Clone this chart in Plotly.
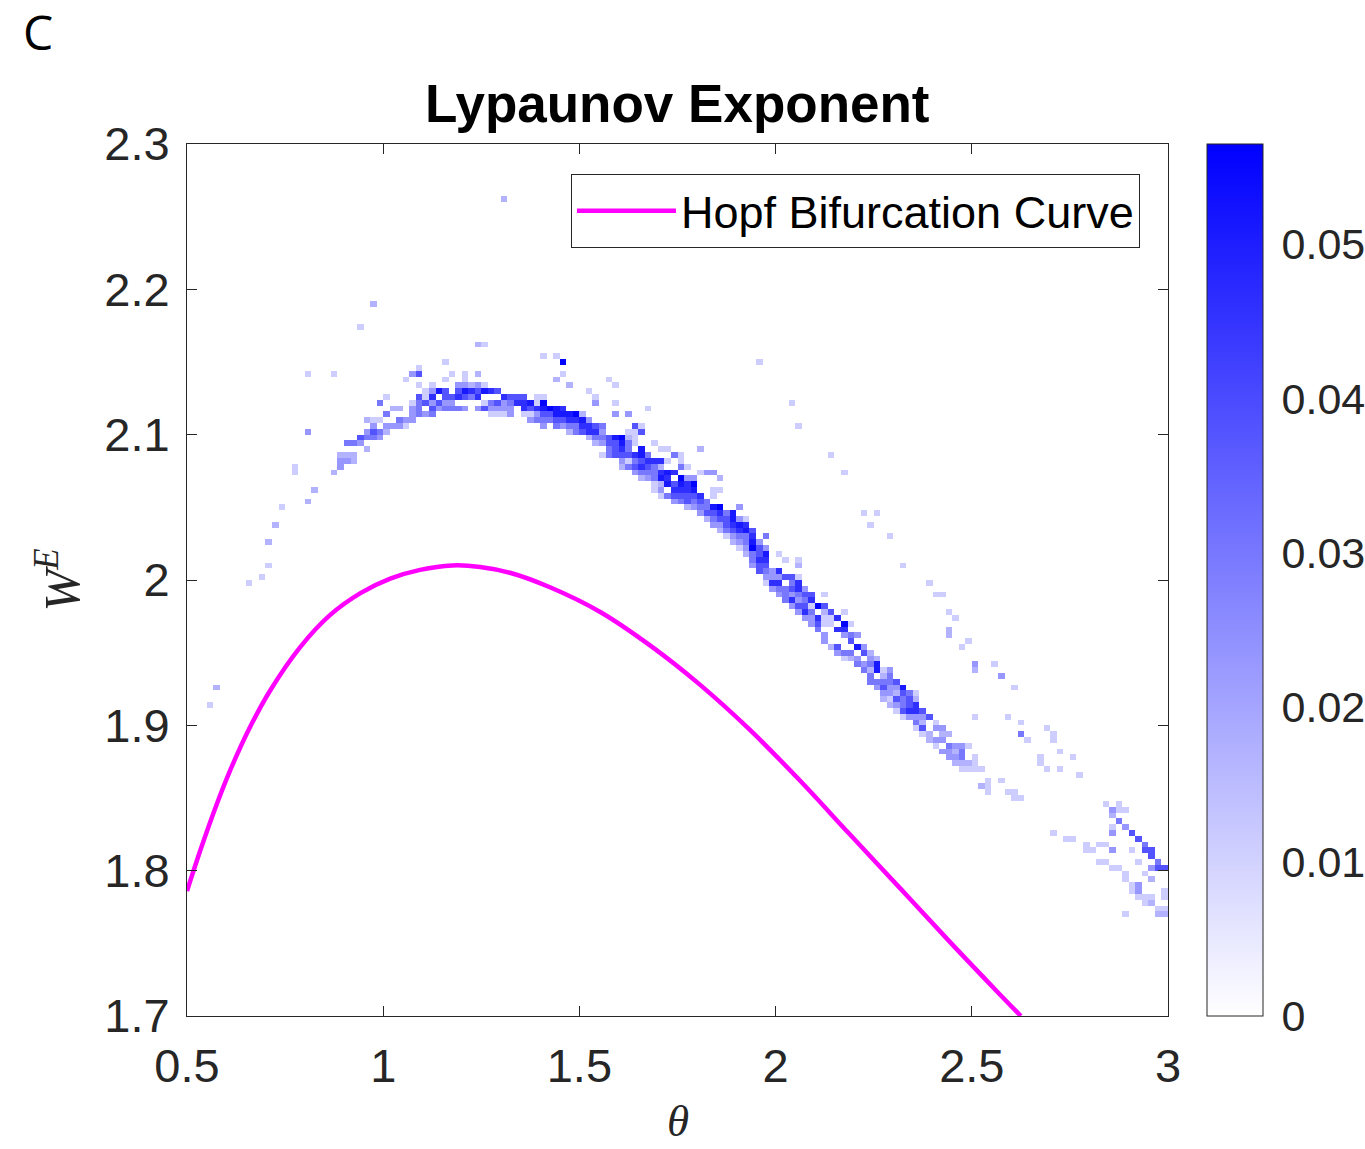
import numpy as np
import plotly.graph_objects as go

# ---------------- grid of the Lyapunov map ----------------
theta_min, theta_max, n_theta = 0.5, 3.0, 150
we_min, we_max, n_we = 1.7, 2.3, 150

# intensity levels -> Lyapunov exponent value
level_values = [0.0, 0.005, 0.011, 0.017, 0.023, 0.030, 0.038, 0.046, 0.051, 0.056]

# non-zero cells: (W^E row index, [(theta column index, level), ...])
lyap_rows = [
    (140, [(48, 3)]),
    (122, [(28, 3)]),
    (118, [(26, 2)]),
    (115, [(44, 3), (45, 2)]),
    (113, [(54, 2), (56, 2)]),
    (112, [(39, 2), (57, 9), (87, 2)]),
    (111, [(35, 2)]),
    (110, [(18, 2), (22, 2), (34, 4), (35, 6), (40, 2), (42, 2), (44, 3), (57, 2)]),
    (109, [(33, 2), (39, 2), (42, 2), (56, 3), (64, 2)]),
    (108, [(35, 2), (37, 2), (41, 4), (42, 4), (43, 3), (44, 4), (45, 2), (58, 3), (65, 2)]),
    (107, [(36, 2), (37, 4), (38, 8), (39, 6), (41, 6), (42, 8), (43, 7), (44, 6), (45, 8), (46, 7), (47, 6), (61, 2)]),
    (106, [(30, 2), (35, 6), (36, 2), (37, 7), (39, 6), (40, 6), (41, 7), (42, 6), (43, 5), (44, 7), (48, 7), (49, 6),
           (50, 6), (51, 6), (53, 2), (54, 2), (62, 2)]),
    (105, [(29, 5), (34, 2), (35, 5), (36, 6), (37, 4), (38, 6), (39, 4), (40, 4), (45, 2), (46, 5), (47, 6), (48, 4),
           (49, 5), (50, 7), (51, 7), (52, 8), (53, 2), (54, 9), (62, 4), (65, 2), (92, 2)]),
    (104, [(31, 3), (32, 3), (34, 4), (35, 5), (37, 6), (38, 4), (39, 5), (40, 5), (41, 5), (42, 4), (44, 4), (45, 6),
           (46, 4), (47, 4), (48, 4), (49, 4), (51, 7), (52, 6), (53, 7), (54, 8), (55, 9), (56, 8), (57, 7), (70, 2)]),
    (103, [(30, 5), (34, 4), (35, 5), (36, 4), (37, 5), (46, 2), (47, 2), (48, 2), (49, 4), (51, 2), (52, 2), (53, 4),
           (54, 6), (55, 6), (56, 8), (57, 8), (58, 8), (59, 9), (60, 3), (65, 4), (67, 4)]),
    (102, [(27, 3), (28, 2), (29, 2), (32, 5), (33, 4), (34, 4), (52, 4), (53, 5), (54, 5), (55, 5), (56, 6), (57, 6),
           (58, 7), (59, 7), (60, 8), (61, 4)]),
    (101, [(28, 4), (30, 4), (31, 4), (32, 4), (33, 2), (54, 4), (56, 5), (57, 4), (58, 5), (59, 5), (60, 7), (61, 7),
           (62, 6), (63, 5), (68, 6), (69, 2), (93, 2)]),
    (100, [(18, 4), (27, 4), (28, 6), (29, 5), (30, 3), (58, 3), (59, 5), (60, 6), (61, 7), (62, 7), (63, 4), (67, 2),
           (68, 2), (69, 6)]),
    (99, [(26, 6), (27, 5), (28, 5), (29, 4), (61, 3), (62, 5), (63, 5), (64, 6), (65, 8), (66, 9), (67, 3), (68, 2)]),
    (98, [(24, 5), (25, 5), (26, 4), (62, 3), (63, 4), (64, 6), (65, 6), (66, 8), (67, 5), (68, 2), (71, 2)]),
    (97, [(27, 3), (64, 5), (65, 6), (66, 7), (67, 5), (69, 8), (72, 2), (73, 2), (78, 3)]),
    (96, [(23, 3), (24, 3), (25, 3), (63, 2), (64, 5), (65, 6), (66, 6), (67, 6), (68, 7), (69, 8), (70, 5), (74, 5),
          (75, 2), (98, 2)]),
    (95, [(23, 4), (24, 4), (25, 3), (66, 4), (67, 2), (68, 5), (69, 6), (70, 7), (71, 7), (72, 7), (73, 2), (75, 2)]),
    (94, [(16, 2), (23, 4), (66, 3), (67, 5), (68, 6), (69, 7), (70, 6), (71, 5), (72, 3), (75, 5), (76, 2)]),
    (93, [(16, 2), (22, 3), (68, 4), (69, 5), (70, 5), (71, 5), (72, 7), (73, 8), (74, 7), (78, 2), (79, 4), (80, 4),
          (100, 2)]),
    (92, [(69, 3), (70, 4), (71, 5), (72, 8), (73, 7), (75, 9), (76, 4), (77, 4), (81, 3)]),
    (91, [(71, 2), (72, 3), (73, 8), (74, 6), (75, 8), (76, 7), (77, 9)]),
    (90, [(19, 3), (71, 2), (72, 4), (74, 7), (75, 7), (76, 7), (77, 8), (80, 2), (81, 2)]),
    (89, [(72, 2), (73, 5), (74, 6), (75, 6), (76, 6), (77, 6), (78, 7), (80, 2)]),
    (88, [(18, 3), (74, 4), (75, 5), (76, 6), (77, 5), (78, 6), (79, 5)]),
    (87, [(14, 2), (76, 3), (77, 4), (78, 5), (79, 5), (80, 8), (81, 9), (84, 4)]),
    (86, [(78, 4), (79, 6), (80, 6), (81, 7), (82, 5), (83, 8), (103, 2), (105, 2)]),
    (85, [(79, 3), (80, 5), (81, 6), (82, 6), (83, 8), (84, 4), (85, 2)]),
    (84, [(13, 3), (80, 4), (81, 4), (82, 6), (83, 7), (84, 8), (85, 7), (104, 2)]),
    (83, [(81, 3), (82, 5), (83, 6), (84, 7), (85, 8), (86, 6)]),
    (82, [(82, 2), (83, 4), (84, 5), (85, 5), (86, 7), (88, 5), (107, 2)]),
    (81, [(12, 3), (83, 3), (84, 4), (85, 5), (86, 8), (87, 4)]),
    (80, [(84, 2), (85, 4), (86, 9), (87, 6), (88, 4)]),
    (79, [(85, 3), (86, 5), (87, 6), (88, 8), (90, 2)]),
    (78, [(86, 5), (87, 7), (88, 7), (91, 2), (93, 2)]),
    (77, [(12, 2), (86, 4), (87, 6), (88, 6), (93, 3), (109, 2)]),
    (76, [(87, 6), (88, 5), (89, 4), (90, 7)]),
    (75, [(11, 2), (88, 4), (89, 4), (90, 4), (91, 6), (92, 6), (93, 2)]),
    (74, [(9, 2), (88, 2), (89, 7), (90, 7), (92, 5), (93, 7), (113, 2)]),
    (73, [(89, 4), (90, 5), (91, 5), (92, 6), (93, 7), (94, 4)]),
    (72, [(90, 4), (91, 5), (92, 4), (93, 5), (94, 6), (95, 6), (97, 2), (114, 2), (115, 2)]),
    (71, [(91, 5), (92, 7), (93, 4), (94, 5), (95, 7)]),
    (70, [(92, 4), (93, 6), (94, 6), (95, 2), (96, 9), (97, 6)]),
    (69, [(93, 4), (94, 7), (95, 5), (97, 3), (98, 6), (100, 2), (116, 2)]),
    (68, [(94, 4), (95, 4), (96, 7), (97, 2), (98, 2), (99, 7), (117, 2)]),
    (67, [(95, 4), (96, 6), (97, 2), (98, 2), (100, 9), (101, 2)]),
    (66, [(96, 5), (99, 7), (100, 7), (116, 3)]),
    (65, [(97, 4), (100, 4), (101, 5), (102, 4), (116, 3)]),
    (64, [(97, 4), (101, 6), (119, 2)]),
    (63, [(98, 3), (99, 6), (102, 8), (103, 4), (118, 2)]),
    (62, [(99, 4), (100, 5), (101, 5), (103, 6), (104, 3)]),
    (61, [(100, 2), (101, 3), (102, 4), (104, 4), (105, 3)]),
    (60, [(102, 5), (103, 4), (104, 5), (105, 8), (120, 4), (123, 2)]),
    (59, [(103, 5), (104, 3), (105, 8), (106, 2), (107, 4), (120, 3)]),
    (58, [(104, 5), (106, 3), (107, 5), (124, 4)]),
    (57, [(104, 5), (105, 5), (106, 5), (107, 5), (108, 6)]),
    (56, [(4, 3), (105, 4), (106, 6), (107, 4), (108, 4), (109, 8), (126, 2)]),
    (55, [(106, 4), (107, 4), (108, 3), (109, 6), (110, 5), (111, 2)]),
    (54, [(106, 3), (107, 2), (108, 6), (109, 5), (110, 6), (111, 3)]),
    (53, [(3, 2), (107, 3), (108, 4), (109, 5), (110, 6), (111, 7)]),
    (52, [(108, 2), (109, 6), (110, 7), (111, 7), (112, 6)]),
    (51, [(109, 2), (110, 4), (111, 4), (112, 4), (113, 6), (120, 2), (125, 2)]),
    (50, [(111, 5), (112, 3), (114, 2), (127, 2)]),
    (49, [(111, 2), (112, 6), (114, 4), (115, 4), (131, 2)]),
    (48, [(112, 2), (113, 3), (115, 3), (116, 3), (127, 5), (132, 2)]),
    (47, [(113, 3), (114, 4), (115, 4), (128, 2), (132, 2)]),
    (46, [(114, 2), (116, 5), (117, 4), (118, 4), (119, 2)]),
    (45, [(115, 4), (116, 4), (117, 3), (118, 5), (133, 2)]),
    (44, [(116, 4), (117, 4), (118, 5), (120, 2), (130, 2), (135, 2)]),
    (43, [(117, 3), (118, 3), (119, 3), (120, 2), (130, 2)]),
    (42, [(118, 2), (119, 2), (120, 2), (121, 2), (131, 2), (133, 2)]),
    (41, [(136, 2)]),
    (40, [(122, 2), (124, 2)]),
    (39, [(121, 3), (122, 2)]),
    (38, [(122, 2), (125, 2), (126, 2)]),
    (37, [(126, 2), (127, 2)]),
    (36, [(140, 2), (142, 2)]),
    (35, [(141, 4), (142, 2), (143, 2)]),
    (34, [(141, 3)]),
    (33, [(142, 5)]),
    (32, [(141, 2), (143, 4)]),
    (31, [(132, 2), (141, 4), (144, 6)]),
    (30, [(134, 2), (135, 2), (145, 6)]),
    (29, [(137, 2), (139, 2), (140, 2), (146, 5)]),
    (28, [(137, 2), (138, 2), (141, 4), (144, 2), (146, 6), (147, 6)]),
    (27, [(147, 6)]),
    (26, [(139, 2), (140, 2), (145, 2), (148, 5)]),
    (25, [(141, 2), (142, 2), (147, 4), (148, 6), (149, 6)]),
    (24, [(143, 2), (146, 2)]),
    (23, [(143, 2), (147, 3)]),
    (22, [(144, 2), (145, 4)]),
    (21, [(144, 2), (145, 4), (149, 2)]),
    (20, [(145, 2), (146, 2), (147, 2), (149, 2)]),
    (19, [(146, 2), (147, 3)]),
    (18, [(148, 2), (149, 2)]),
    (17, [(143, 2), (148, 3), (149, 3)]),
]

# Hopf bifurcation curve (theta, W^E)
hopf_theta = [0.50, 0.534, 0.572, 0.61, 0.661, 0.712, 0.789, 0.865, 0.942, 1.018, 1.094, 1.176, 1.247,
              1.323, 1.425, 1.553, 1.68, 1.807, 1.934, 2.062, 2.189, 2.317, 2.444, 2.571, 2.625]
hopf_we = [1.786, 1.814, 1.843, 1.869, 1.899, 1.924, 1.954, 1.976, 1.991, 2.001, 2.007, 2.010, 2.009,
           2.005, 1.995, 1.978, 1.955, 1.928, 1.897, 1.862, 1.825, 1.788, 1.751, 1.715, 1.700]

x_ticks = [0.5, 1, 1.5, 2, 2.5, 3]
x_ticktext = ['0.5', '1', '1.5', '2', '2.5', '3']
y_ticks = [1.7, 1.8, 1.9, 2.0, 2.1, 2.2, 2.3]
y_ticktext = ['1.7', '1.8', '1.9', '2', '2.1', '2.2', '2.3']
cb_ticks = [0, 0.01, 0.02, 0.03, 0.04, 0.05]
cb_ticktext = ['0', '0.01', '0.02', '0.03', '0.04', '0.05']
cb_max = 0.0565

# ---------------- build the matrix ----------------
d_theta = (theta_max - theta_min) / n_theta
d_we = (we_max - we_min) / n_we
theta_centers = theta_min + d_theta * (np.arange(n_theta) + 0.5)
we_centers = we_min + d_we * (np.arange(n_we) + 0.5)
z = np.full((n_we, n_theta), np.nan)
for row, cells in lyap_rows:
    for col, lev in cells:
        z[row, col] = level_values[lev]

AX = '#262626'
SANS = 'Liberation Sans, Arial, sans-serif'
TICKFONT = dict(family=SANS, size=47, color=AX)

fig = go.Figure()
fig.add_trace(go.Heatmap(
    x=theta_centers, y=we_centers, z=z,
    colorscale=[[0, '#ffffff'], [1, '#0000ff']], zmin=0, zmax=cb_max,
    hoverongaps=False, showlegend=False,
    colorbar=dict(
        x=1.0402, xanchor='left', xref='paper', y=0, yanchor='bottom', len=1, lenmode='fraction',
        thickness=56, thicknessmode='pixels', outlinewidth=1, outlinecolor=AX,
        tickvals=cb_ticks, ticktext=cb_ticktext, ticks='outside', ticklen=10, tickcolor='rgba(0,0,0,0)',
        tickfont=dict(family=SANS, size=43, color=AX), xpad=0, ypad=0,
    ),
))
fig.add_trace(go.Scatter(
    x=hopf_theta, y=hopf_we, mode='lines', name='Hopf Bifurcation Curve',
    line=dict(color='#ff00ff', width=4.5, shape='spline', smoothing=1.0),
    showlegend=True,
))

fig.update_layout(
    width=1365, height=1149,
    margin=dict(l=187, r=197, t=144, b=133, autoexpand=False),
    paper_bgcolor='white', plot_bgcolor='white',
    xaxis=dict(range=[theta_min, theta_max], tickvals=x_ticks, ticktext=x_ticktext, ticks='inside',
               ticklen=10, tickwidth=1, tickcolor=AX, showline=True, linecolor=AX, linewidth=1,
               mirror='ticks', showgrid=False, zeroline=False, tickfont=TICKFONT, ticklabelstandoff=9),
    yaxis=dict(range=[we_min, we_max], tickvals=y_ticks, ticktext=y_ticktext, ticks='inside',
               ticklen=10, tickwidth=1, tickcolor=AX, showline=True, linecolor=AX, linewidth=1,
               mirror='ticks', showgrid=False, zeroline=False, tickfont=TICKFONT, ticklabelstandoff=7),
    legend=dict(x=0.3914, y=0.9656, xanchor='left', yanchor='top', bordercolor=AX, borderwidth=1,
                bgcolor='white', font=dict(family=SANS, size=45, color='black'),
                itemwidth=99),
    showlegend=True,
)

fig.add_annotation(text='<b>Lypaunov Exponent</b>', xref='paper', yref='paper', x=0.5, y=1.047,
                   xanchor='center', yanchor='middle', showarrow=False,
                   font=dict(family=SANS, size=53, color='black'))
fig.add_annotation(text='C', xref='paper', yref='paper', x=-0.1515, y=1.1285,
                   xanchor='center', yanchor='middle', showarrow=False,
                   font=dict(family='Open Sans, sans-serif', size=48, color='black'))
fig.add_annotation(text='<i>θ</i>', xref='paper', yref='paper', x=0.5, y=-0.1205,
                   xanchor='center', yanchor='middle', showarrow=False,
                   font=dict(family='Liberation Serif, Times New Roman, serif', size=45, color=AX))
fig.add_annotation(text='<i>W</i><sup><i>E</i></sup>', xref='paper', yref='paper', x=-0.131, y=0.5,
                   xanchor='center', yanchor='middle', showarrow=False, textangle=-90,
                   font=dict(family='Liberation Serif, Times New Roman, serif', size=50, color=AX))

fig.write_html('out.html')
